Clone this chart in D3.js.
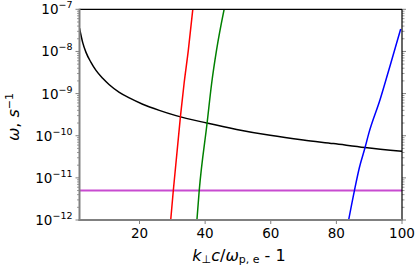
<!DOCTYPE html>
<html><head><meta charset="utf-8">
<script src="https://cdn.jsdelivr.net/npm/d3@7"></script>
<style>body{margin:0;background:#fff}svg{display:block}</style>
</head><body>
<svg id="c" width="415" height="267"></svg>
<script>
const xDomain = [1.71, 100];
const yDomain = [1e-12, 1e-7];
const xTicks = [20, 40, 60, 80, 100];
const yTicks = [1e-12, 1e-11, 1e-10, 1e-9, 1e-8, 1e-7];
const yTickExp = ["-12", "-11", "-10", "-9", "-8", "-7"];

const kBlack = [1.71, 2.69, 3.69, 5.21, 6.74, 8.78, 10.79, 13.84, 16.89, 20.97, 26.03, 31.12, 40.5, 49.6, 59.8, 69.9, 79.1, 88.7, 100];
const wBlack = [3.55e-8, 1.62e-8, 9.5e-9, 5.5e-9, 3.55e-9, 2.3e-9, 1.62e-9, 1.07e-9, 7.9e-10, 5.6e-10, 4.0e-10, 3.0e-10, 2.0e-10, 1.41e-10, 1.02e-10, 7.9e-11, 6.5e-11, 5.25e-11, 4.27e-11];

const kRed = [29.4, 30.3, 32.5, 33.6, 34.9, 36.3];
const wRed = [8e-13, 5e-12, 3.0e-10, 1.78e-9, 1.1e-8, 1.1e-7];

const kGreen = [37.4, 38.2, 40.6, 42.0, 43.5, 45.9];
const wGreen = [8e-13, 5e-12, 2.0e-10, 1.78e-9, 1.1e-8, 1.1e-7];

const kBlue = [83.5, 85.5, 87.0, 88.7, 89.9, 93.3, 96.3, 99.6];
const wBlue = [8e-13, 5e-12, 1.74e-11, 5.1e-11, 1.15e-10, 7.1e-10, 4.4e-9, 3.4e-8];

const kMag = [1.71, 100];
const wMag = [5e-12, 5e-12];

const L = 79.5, R = 402, T = 9.3, B = 220;
const svg = d3.select("#c");
const x = d3.scaleLinear().domain(xDomain).range([L, R]);
const y = d3.scaleLog().domain(yDomain).range([B, T]);
const gray = "#808080";

svg.append("defs").append("clipPath").attr("id","clip")
  .append("rect").attr("x", L).attr("y", T).attr("width", R-L).attr("height", B-T);

const line = d3.line().x(d => x(d[0])).y(d => y(d[1])).curve(d3.curveMonotoneX);
const plot = svg.append("g").attr("clip-path","url(#clip)");
function draw(ks, ws, color, w) {
  plot.append("path").datum(ks.map((k,i)=>[k, ws[i]]))
    .attr("d", line).attr("fill","none").attr("stroke", color).attr("stroke-width", w);
}
draw(kMag, wMag, "#c84bd0", 2);
draw(kBlack, wBlack, "#000", 1.5);
draw(kRed, wRed, "#ff0000", 1.5);
draw(kGreen, wGreen, "#008000", 1.5);
draw(kBlue, wBlue, "#0000ff", 1.5);

const minors = [];
for (let e = -12; e < -7; e++) for (let m = 2; m <= 9; m++) minors.push(m * Math.pow(10, e));

const gl = svg.append("g");
minors.forEach(v => {
  gl.append("line").attr("x1", L-2.5).attr("x2", L).attr("y1", y(v)).attr("y2", y(v)).attr("stroke", gray).attr("stroke-width", 0.8);
  gl.append("line").attr("x1", R).attr("x2", R+2.5).attr("y1", y(v)).attr("y2", y(v)).attr("stroke", gray).attr("stroke-width", 0.8);
});
yTicks.forEach((v, i) => {
  gl.append("line").attr("x1", L-4).attr("x2", L).attr("y1", y(v)).attr("y2", y(v)).attr("stroke", gray).attr("stroke-width", 1);
  gl.append("line").attr("x1", R).attr("x2", R+4).attr("y1", y(v)).attr("y2", y(v)).attr("stroke", gray).attr("stroke-width", 1);
  const t = gl.append("text").attr("x", L-7).attr("y", y(v)+5).attr("text-anchor","end")
    .attr("font-family","DejaVu Sans").attr("font-size", 13.5).attr("fill","#000");
  t.append("tspan").text("10");
  t.append("tspan").attr("dy", -6).attr("font-size", 9.5).text("\u2212" + yTickExp[i].slice(1));
});

xTicks.forEach(v => {
  svg.append("line").attr("x1", x(v)).attr("x2", x(v)).attr("y1", B).attr("y2", B+4).attr("stroke", gray).attr("stroke-width", 1);
  svg.append("text").attr("x", x(v)).attr("y", B+18).attr("text-anchor","middle")
    .attr("font-family","DejaVu Sans").attr("font-size", 13.5).attr("fill","#000").text(v);
});

svg.append("line").attr("x1", L).attr("x2", R).attr("y1", T).attr("y2", T).attr("stroke","#000").attr("stroke-width",1.2);
svg.append("line").attr("x1", R).attr("x2", R).attr("y1", T).attr("y2", B).attr("stroke","#000").attr("stroke-width",1.2);
svg.append("line").attr("x1", L).attr("x2", L).attr("y1", T-0.6).attr("y2", B+1).attr("stroke",gray).attr("stroke-width",2);
svg.append("line").attr("x1", L-1).attr("x2", R+0.6).attr("y1", B).attr("y2", B).attr("stroke",gray).attr("stroke-width",2);

const yl = svg.append("text").attr("transform","translate(19,117) rotate(-90)").attr("text-anchor","middle")
  .attr("font-family","DejaVu Sans").attr("font-size", 16).attr("fill","#000");
yl.append("tspan").attr("font-style","italic").text("\u03c9");
yl.append("tspan").text(", ");
yl.append("tspan").attr("font-style","italic").text("s");
yl.append("tspan").attr("dy",-6).attr("font-size",11).text("\u22121");

const xl = svg.append("text").attr("x", 239).attr("y", 260.5).attr("text-anchor","middle")
  .attr("font-family","DejaVu Sans").attr("font-size", 16).attr("fill","#000");
xl.append("tspan").attr("font-style","italic").text("k");
xl.append("tspan").attr("dy",2.5).attr("font-size",11).text("\u22a5");
xl.append("tspan").attr("dy",-2.5).attr("font-style","italic").text("c");
xl.append("tspan").text("/");
xl.append("tspan").attr("font-style","italic").text("\u03c9");
xl.append("tspan").attr("dy",2.5).attr("font-size",11).text("p, e");
xl.append("tspan").attr("dy",-2.5).text(" - 1");
</script>
</body></html>
